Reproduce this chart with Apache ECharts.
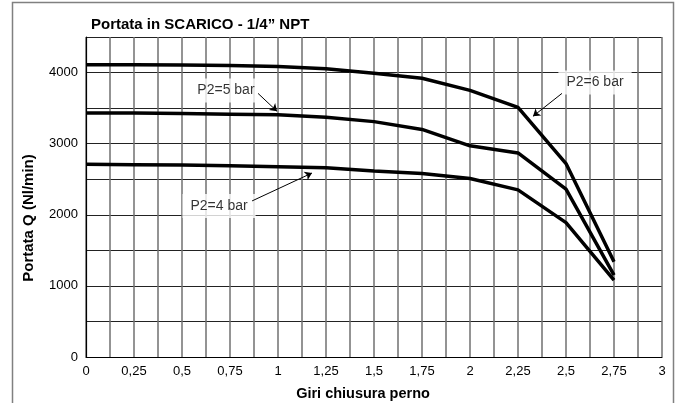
<!DOCTYPE html>
<html>
<head>
<meta charset="utf-8">
<script src="https://cdn.jsdelivr.net/npm/echarts@6/dist/echarts.min.js"></script>
<style>
html,body{margin:0;padding:0;background:#fff;}
#c{width:682px;height:403px;}
</style>
</head>
<body>
<div id="c"></div>
<script>
const giri = [0, 0.25, 0.5, 0.75, 1, 1.25, 1.5, 1.75, 2, 2.25, 2.5, 2.75];
const p6bar = [4110, 4110, 4105, 4100, 4085, 4055, 3990, 3920, 3750, 3510, 2720, 1340];
const p5bar = [3430, 3430, 3425, 3415, 3405, 3370, 3310, 3200, 2970, 2870, 2360, 1150];
const p4bar = [2710, 2705, 2700, 2690, 2675, 2660, 2615, 2580, 2510, 2350, 1890, 1080];
const labelTexts = ['P2=5 bar', 'P2=6 bar', 'P2=4 bar'];
const labelPos = [[0.729, 3749], [2.651, 3861], [0.693, 2125]];
const arrows = [
  [[0.896, 3707], [0.995, 3455]],
  [[2.479, 3707], [2.328, 3385]],
  [[0.865, 2195], [1.177, 2587]]
];

const chart = echarts.init(document.getElementById('c'));
const FONT = '"Liberation Sans", Arial, sans-serif';
function pair(ys){ return giri.map((x,i)=>[x, ys[i]]); }
const lineStyle = {color:'#000', width:3.5};

chart.setOption({
  animation:false,
  textStyle:{fontFamily:FONT},
  title:{text:'Portata in SCARICO - 1/4\u201D NPT', left:86, top:12,
    textStyle:{fontFamily:FONT, fontSize:15, fontWeight:'bold', color:'#000'}},
  grid:{left:86, right:20, top:37, bottom:46, show:false, containLabel:false, outerBoundsMode:'none'},
  xAxis:{type:'value', min:0, max:3, interval:0.25,
    name:'Giri chiusura perno', nameLocation:'middle', nameGap:29,
    nameTextStyle:{fontFamily:FONT, fontSize:14.5, fontWeight:'bold', color:'#000', padding:[0,22,0,0]},
    axisLine:{lineStyle:{color:'#000', width:1.2}},
    axisTick:{show:false},
    minorTick:{show:false, splitNumber:2},
    axisLabel:{color:'#000', fontSize:13, margin:8, formatter:v=>String(v).replace('.',',')},
    splitLine:{show:true, lineStyle:{color:'#707070', width:1.5}},
    minorSplitLine:{show:true, lineStyle:{color:'#707070', width:1.5}}
  },
  yAxis:{type:'value', min:0, max:4500, interval:500,
    axisLine:{show:true, lineStyle:{color:'#000', width:1.2}},
    axisTick:{show:false},
    axisLabel:{color:'#000', fontSize:13, margin:8, formatter:v=> (v%1000===0 ? String(v) : '')},
    splitLine:{show:true, lineStyle:{color:'#222', width:1}}
  },
  graphic:[
    {type:'rect', shape:{x:12.5, y:2.5, width:661, height:430}, style:{fill:'none', stroke:'#808080', lineWidth:1.5}, silent:true},
    {type:'text', x:29, y:218, rotation:Math.PI/2, style:{text:'Portata Q (Nl/min)', font:'bold 15px "Liberation Sans", Arial, sans-serif', fill:'#000', align:'center', verticalAlign:'middle'}}
  ],
  series:[
    {type:'line', name:'P2=6 bar', data:pair(p6bar), symbol:'none', lineStyle:lineStyle, z:5},
    {type:'line', name:'P2=5 bar', data:pair(p5bar), symbol:'none', lineStyle:lineStyle, z:5},
    {type:'line', name:'P2=4 bar', data:pair(p4bar), symbol:'none', lineStyle:lineStyle, z:5},
    {type:'lines', coordinateSystem:'cartesian2d', symbol:['none','arrow'], symbolSize:[0,7],
      lineStyle:{color:'#000', width:1, opacity:1}, z:4,
      data:arrows.map(a=>({coords:a}))},
    {type:'scatter', symbolSize:0, z:3,
      data:labelPos.map((p,i)=>[p[0], p[1], labelTexts[i]]),
      label:{show:true, position:'inside', formatter:p=>p.value[2], color:'#000', fontSize:14, fontFamily:FONT,
        backgroundColor:'#fff', padding:[5,8]}}
  ]
});
</script>
</body>
</html>
